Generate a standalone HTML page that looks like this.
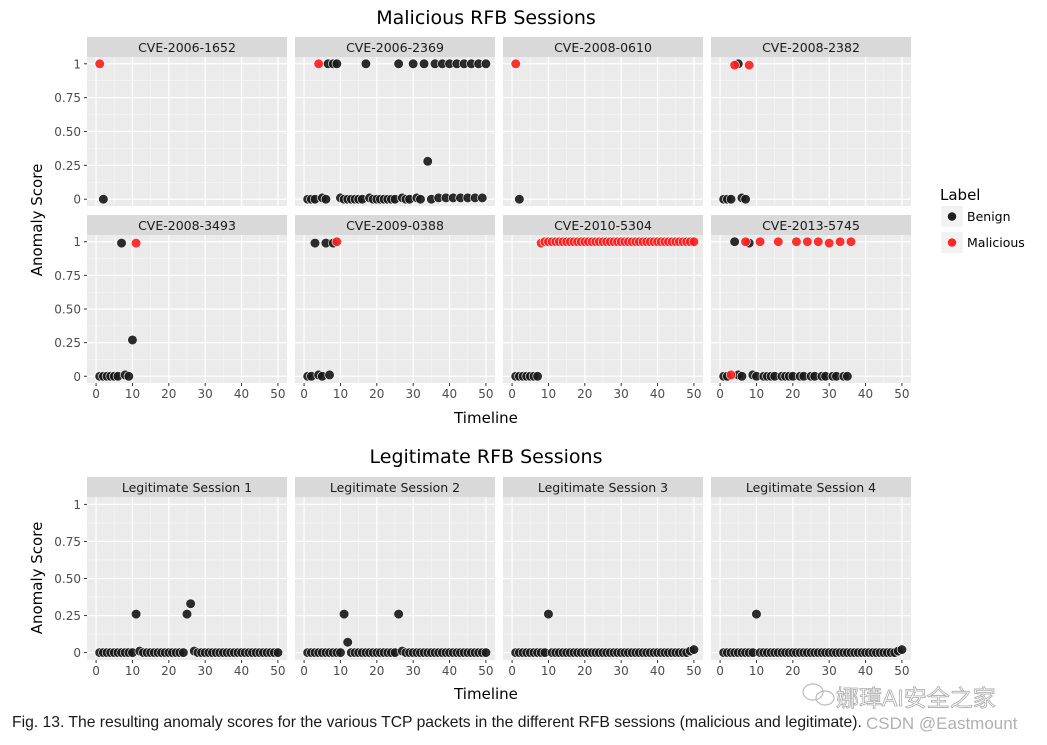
<!DOCTYPE html>
<html><head><meta charset="utf-8">
<style>
html,body{margin:0;padding:0;background:#fff;}
svg{display:block;font-family:"Liberation Sans","DejaVu Sans",sans-serif;}
</style></head>
<body>
<svg id="chart" width="1047" height="745" viewBox="0 0 1047 745">
<text x="486" y="24" text-anchor="middle" font-size="19" font-family="DejaVu Sans, sans-serif" fill="#000">Malicious RFB Sessions</text>
<text x="486" y="463" text-anchor="middle" font-size="19" font-family="DejaVu Sans, sans-serif" fill="#000">Legitimate RFB Sessions</text>
<text x="486" y="423" text-anchor="middle" font-size="15" font-family="DejaVu Sans, sans-serif">Timeline</text>
<text x="486" y="699" text-anchor="middle" font-size="15" font-family="DejaVu Sans, sans-serif">Timeline</text>
<text transform="translate(42,220) rotate(-90)" text-anchor="middle" font-size="15" font-family="DejaVu Sans, sans-serif">Anomaly Score</text>
<text transform="translate(42,578) rotate(-90)" text-anchor="middle" font-size="15" font-family="DejaVu Sans, sans-serif">Anomaly Score</text>
<g>
<text x="940" y="200" font-size="15" font-family="DejaVu Sans, sans-serif">Label</text>
<rect x="941" y="206" width="22" height="21" fill="#F2F2F2"/>
<circle cx="952" cy="216.5" r="4.6" fill="#1f1f1f" stroke="#fff" stroke-width="0.6"/>
<text x="967" y="221" font-size="12.5" font-family="DejaVu Sans, sans-serif" fill="#000">Benign</text>
<rect x="941" y="232" width="22" height="21" fill="#F2F2F2"/>
<circle cx="952" cy="242.5" r="4.6" fill="#ff2525" stroke="#fff" stroke-width="0.6"/>
<text x="967" y="247" font-size="12.5" font-family="DejaVu Sans, sans-serif" fill="#000">Malicious</text>
</g>
<text x="12" y="727" font-size="15.7" fill="#1a1a1a">Fig. 13. The resulting anomaly scores for the various TCP packets in the different RFB sessions (malicious and legitimate).</text>
<g fill="none" stroke="#bbb" stroke-width="1.2">
<ellipse cx="813" cy="692" rx="10" ry="8"/>
<ellipse cx="825" cy="698" rx="9" ry="7"/>
</g>
<text x="836" y="706" font-size="23" fill="#fff" stroke="#aaa" stroke-width="0.8" font-family="Liberation Sans, Noto Sans CJK SC, sans-serif">娜璋AI安全之家</text>
<text x="866" y="729" font-size="17" fill="#b0b0b0">CSDN @Eastmount</text>
<g id="panels"></g>
</svg>
<script>
// ---- data: [x, score, label] ; B = Benign, M = Malicious ----
const cve_2006_1652 = [[1,1,'M'],[2,0,'B']];
const cve_2006_2369 = [[4,1,'M'],[6.6,1,'B'],[8,1,'B'],[9,1,'B'],[17,1,'B'],[26,1,'B'],[30,1,'B'],[33,1,'B'],[36,1,'B'],[38,1,'B'],[40,1,'B'],[42,1,'B'],[44,1,'B'],[46,1,'B'],[48,1,'B'],[50,1,'B'],[34,0.28,'B'],
 [1,0,'B'],[2,0,'B'],[3,0,'B'],[5,0.01,'B'],[6,0,'B'],[10,0.01,'B'],[11,0,'B'],[12,0,'B'],[13,0,'B'],[14,0,'B'],[15,0,'B'],[16,0,'B'],[18,0.01,'B'],[19,0,'B'],[20,0,'B'],[21,0,'B'],[22,0,'B'],[23,0,'B'],[24,0,'B'],[25,0,'B'],[27,0.01,'B'],[28,0,'B'],[29,0,'B'],[31,0.01,'B'],[32,0,'B'],[35,0,'B'],[37,0.01,'B'],[39,0.01,'B'],[41,0.01,'B'],[43,0.01,'B'],[45,0.01,'B'],[47,0.01,'B'],[49,0.01,'B']];
const cve_2008_0610 = [[1,1,'M'],[2,0,'B']];
const cve_2008_2382 = [[5,1,'B'],[4,0.99,'M'],[8,0.99,'M'],[1,0,'B'],[2,0,'B'],[3,0,'B'],[6,0.01,'B'],[7,0,'B']];
const cve_2008_3493 = [[7,0.99,'B'],[11,0.99,'M'],[10,0.27,'B'],[1,0,'B'],[2,0,'B'],[3,0,'B'],[4,0,'B'],[5,0,'B'],[6,0,'B'],[8,0.01,'B'],[9,0,'B']];
const cve_2009_0388 = [[3,0.99,'B'],[6,0.99,'B'],[8,0.99,'B'],[9,1,'M'],[1,0,'B'],[2,0,'B'],[4,0.01,'B'],[5,0,'B'],[7,0.01,'B']];
const cve_2010_5304 = [[1,0,'B'],[2,0,'B'],[3,0,'B'],[4,0,'B'],[5,0,'B'],[6,0,'B'],[7,0,'B'],
 [8,0.99,'M'],[9,1,'M'],[10,1,'M'],[11,1,'M'],[12,1,'M'],[13,1,'M'],[14,1,'M'],[15,1,'M'],[16,1,'M'],[17,1,'M'],[18,1,'M'],[19,1,'M'],[20,1,'M'],[21,1,'M'],[22,1,'M'],[23,1,'M'],[24,1,'M'],[25,1,'M'],[26,1,'M'],[27,1,'M'],[28,1,'M'],[29,1,'M'],[30,1,'M'],[31,1,'M'],[32,1,'M'],[33,1,'M'],[34,1,'M'],[35,1,'M'],[36,1,'M'],[37,1,'M'],[38,1,'M'],[39,1,'M'],[40,1,'M'],[41,1,'M'],[42,1,'M'],[43,1,'M'],[44,1,'M'],[45,1,'M'],[46,1,'M'],[47,1,'M'],[48,1,'M'],[49,1,'M'],[50,1,'M']];
const cve_2013_5745 = [[4,1,'B'],[8,0.99,'B'],[7,1,'M'],[11,1,'M'],[16,1,'M'],[21,1,'M'],[24,1,'M'],[27,1,'M'],[30,0.99,'M'],[33,1,'M'],[36,1,'M'],
 [1,0,'B'],[2,0,'B'],[5,0.01,'B'],[6,0,'B'],[9,0.01,'B'],[10,0,'B'],[12,0,'B'],[13,0,'B'],[14,0,'B'],[15,0,'B'],[17,0,'B'],[18,0,'B'],[19,0,'B'],[20,0,'B'],[22,0,'B'],[23,0,'B'],[25,0,'B'],[26,0,'B'],[28,0,'B'],[29,0,'B'],[31,0,'B'],[32,0,'B'],[34,0,'B'],[35,0,'B'],[3,0.01,'M']];
const legit_1 = [[1,0,'B'],[2,0,'B'],[3,0,'B'],[4,0,'B'],[5,0,'B'],[6,0,'B'],[7,0,'B'],[8,0,'B'],[9,0,'B'],[10,0,'B'],[11,0.26,'B'],[12,0.01,'B'],[13,0,'B'],[14,0,'B'],[15,0,'B'],[16,0,'B'],[17,0,'B'],[18,0,'B'],[19,0,'B'],[20,0,'B'],[21,0,'B'],[22,0,'B'],[23,0,'B'],[24,0,'B'],[25,0.26,'B'],[26,0.33,'B'],[27,0.01,'B'],[28,0,'B'],[29,0,'B'],[30,0,'B'],[31,0,'B'],[32,0,'B'],[33,0,'B'],[34,0,'B'],[35,0,'B'],[36,0,'B'],[37,0,'B'],[38,0,'B'],[39,0,'B'],[40,0,'B'],[41,0,'B'],[42,0,'B'],[43,0,'B'],[44,0,'B'],[45,0,'B'],[46,0,'B'],[47,0,'B'],[48,0,'B'],[49,0,'B'],[50,0,'B']];
const legit_2 = [[1,0,'B'],[2,0,'B'],[3,0,'B'],[4,0,'B'],[5,0,'B'],[6,0,'B'],[7,0,'B'],[8,0,'B'],[9,0,'B'],[10,0,'B'],[11,0.26,'B'],[12,0.07,'B'],[13,0,'B'],[14,0,'B'],[15,0,'B'],[16,0,'B'],[17,0,'B'],[18,0,'B'],[19,0,'B'],[20,0,'B'],[21,0,'B'],[22,0,'B'],[23,0,'B'],[24,0,'B'],[25,0,'B'],[26,0.26,'B'],[27,0.01,'B'],[28,0,'B'],[29,0,'B'],[30,0,'B'],[31,0,'B'],[32,0,'B'],[33,0,'B'],[34,0,'B'],[35,0,'B'],[36,0,'B'],[37,0,'B'],[38,0,'B'],[39,0,'B'],[40,0,'B'],[41,0,'B'],[42,0,'B'],[43,0,'B'],[44,0,'B'],[45,0,'B'],[46,0,'B'],[47,0,'B'],[48,0,'B'],[49,0,'B'],[50,0,'B']];
const legit_3 = [[1,0,'B'],[2,0,'B'],[3,0,'B'],[4,0,'B'],[5,0,'B'],[6,0,'B'],[7,0,'B'],[8,0,'B'],[9,0,'B'],[10,0.26,'B'],[11,0,'B'],[12,0,'B'],[13,0,'B'],[14,0,'B'],[15,0,'B'],[16,0,'B'],[17,0,'B'],[18,0,'B'],[19,0,'B'],[20,0,'B'],[21,0,'B'],[22,0,'B'],[23,0,'B'],[24,0,'B'],[25,0,'B'],[26,0,'B'],[27,0,'B'],[28,0,'B'],[29,0,'B'],[30,0,'B'],[31,0,'B'],[32,0,'B'],[33,0,'B'],[34,0,'B'],[35,0,'B'],[36,0,'B'],[37,0,'B'],[38,0,'B'],[39,0,'B'],[40,0,'B'],[41,0,'B'],[42,0,'B'],[43,0,'B'],[44,0,'B'],[45,0,'B'],[46,0,'B'],[47,0,'B'],[48,0,'B'],[49,0.01,'B'],[50,0.02,'B']];
const legit_4 = [[1,0,'B'],[2,0,'B'],[3,0,'B'],[4,0,'B'],[5,0,'B'],[6,0,'B'],[7,0,'B'],[8,0,'B'],[9,0,'B'],[10,0.26,'B'],[11,0,'B'],[12,0,'B'],[13,0,'B'],[14,0,'B'],[15,0,'B'],[16,0,'B'],[17,0,'B'],[18,0,'B'],[19,0,'B'],[20,0,'B'],[21,0,'B'],[22,0,'B'],[23,0,'B'],[24,0,'B'],[25,0,'B'],[26,0,'B'],[27,0,'B'],[28,0,'B'],[29,0,'B'],[30,0,'B'],[31,0,'B'],[32,0,'B'],[33,0,'B'],[34,0,'B'],[35,0,'B'],[36,0,'B'],[37,0,'B'],[38,0,'B'],[39,0,'B'],[40,0,'B'],[41,0,'B'],[42,0,'B'],[43,0,'B'],[44,0,'B'],[45,0,'B'],[46,0,'B'],[47,0,'B'],[48,0,'B'],[49,0.01,'B'],[50,0.02,'B']];

const panelTitles = ['CVE-2006-1652','CVE-2006-2369','CVE-2008-0610','CVE-2008-2382','CVE-2008-3493','CVE-2009-0388','CVE-2010-5304','CVE-2013-5745','Legitimate Session 1','Legitimate Session 2','Legitimate Session 3','Legitimate Session 4'];
const panelData = [cve_2006_1652,cve_2006_2369,cve_2008_0610,cve_2008_2382,cve_2008_3493,cve_2009_0388,cve_2010_5304,cve_2013_5745,legit_1,legit_2,legit_3,legit_4];
const xTicks = [0,10,20,30,40,50];
const yTicks = [0,0.25,0.5,0.75,1];
const yTickLabels = ['0','0.25','0.50','0.75','1'];

const NS='http://www.w3.org/2000/svg';
const root=document.getElementById('panels');
function mk(tag,attrs,parent){const e=document.createElementNS(NS,tag);for(const k in attrs)e.setAttribute(k,attrs[k]);parent.appendChild(e);return e;}
const colX=[87,295,503,711], PW=200;
const rows=[{st:37,pt:57,pb:206,xl:false},{st:215,pt:235,pb:383,xl:true},{st:477,pt:497,pb:660,xl:true}];
const XMIN=-2.5,XMAX=52.5,YMIN=-0.05,YMAX=1.05;

panelData.forEach((data,i)=>{
  const r=rows[Math.floor(i/4)], x0=colX[i%4];
  const sx=v=>x0+(v-XMIN)/(XMAX-XMIN)*PW;
  const sy=v=>r.pb-(v-YMIN)/(YMAX-YMIN)*(r.pb-r.pt);
  const g=mk('g',{},root);
  
  
  mk('rect',{x:x0,y:r.pt,width:PW,height:r.pb-r.pt,fill:'#EBEBEB'},g);
  const strip=mk('rect',{x:x0,y:r.st,width:PW,height:r.pt-r.st,fill:'#D9D9D9'},g);
  
  
  const st=mk('text',{x:x0+PW/2,y:r.st+15,'text-anchor':'middle','font-size':'12.5','font-family':'DejaVu Sans, sans-serif',fill:'#1A1A1A'},g);
  st.textContent=panelTitles[i];
  
  
  for(let k=0;k<xTicks.length-1;k++){const xv=(xTicks[k]+xTicks[k+1])/2;mk('line',{x1:sx(xv),x2:sx(xv),y1:r.pt,y2:r.pb,stroke:'#F7F7F7','stroke-width':0.6},g);}
  for(let k=0;k<yTicks.length-1;k++){const yv=(yTicks[k]+yTicks[k+1])/2;mk('line',{x1:x0,x2:x0+PW,y1:sy(yv),y2:sy(yv),stroke:'#F7F7F7','stroke-width':0.6},g);}
  xTicks.forEach(t=>{mk('line',{x1:sx(t),x2:sx(t),y1:r.pt,y2:r.pb,stroke:'#fff','stroke-width':1.2},g);
    if(r.xl){mk('line',{x1:sx(t),x2:sx(t),y1:r.pb,y2:r.pb+3,stroke:'#333','stroke-width':1},g);
      const tl=mk('text',{x:sx(t),y:r.pb+15,'text-anchor':'middle','font-size':'12','font-family':'DejaVu Sans, sans-serif',fill:'#4D4D4D'},g);
      tl.textContent=t;
      
      }});
  yTicks.forEach((t,k)=>{mk('line',{x1:x0,x2:x0+PW,y1:sy(t),y2:sy(t),stroke:'#fff','stroke-width':1.2},g);
    if(i%4===0){mk('line',{x1:x0-3,x2:x0,y1:sy(t),y2:sy(t),stroke:'#333','stroke-width':1},g);
      const tl=mk('text',{x:x0-6,y:sy(t)+4.5,'text-anchor':'end','font-size':'12','font-family':'DejaVu Sans, sans-serif',fill:'#4D4D4D'},g);
      tl.textContent=yTickLabels[k];
      
      }});
  data.forEach(p=>{
    const c=mk('circle',{cx:sx(p[0]),cy:sy(p[1]),r:4.8,fill:p[2]==='M'?'#ff2020':'#1a1a1a','fill-opacity':0.92,stroke:'#fff','stroke-width':0.6},g);
    
    
  });
});
</script>
</body></html>
